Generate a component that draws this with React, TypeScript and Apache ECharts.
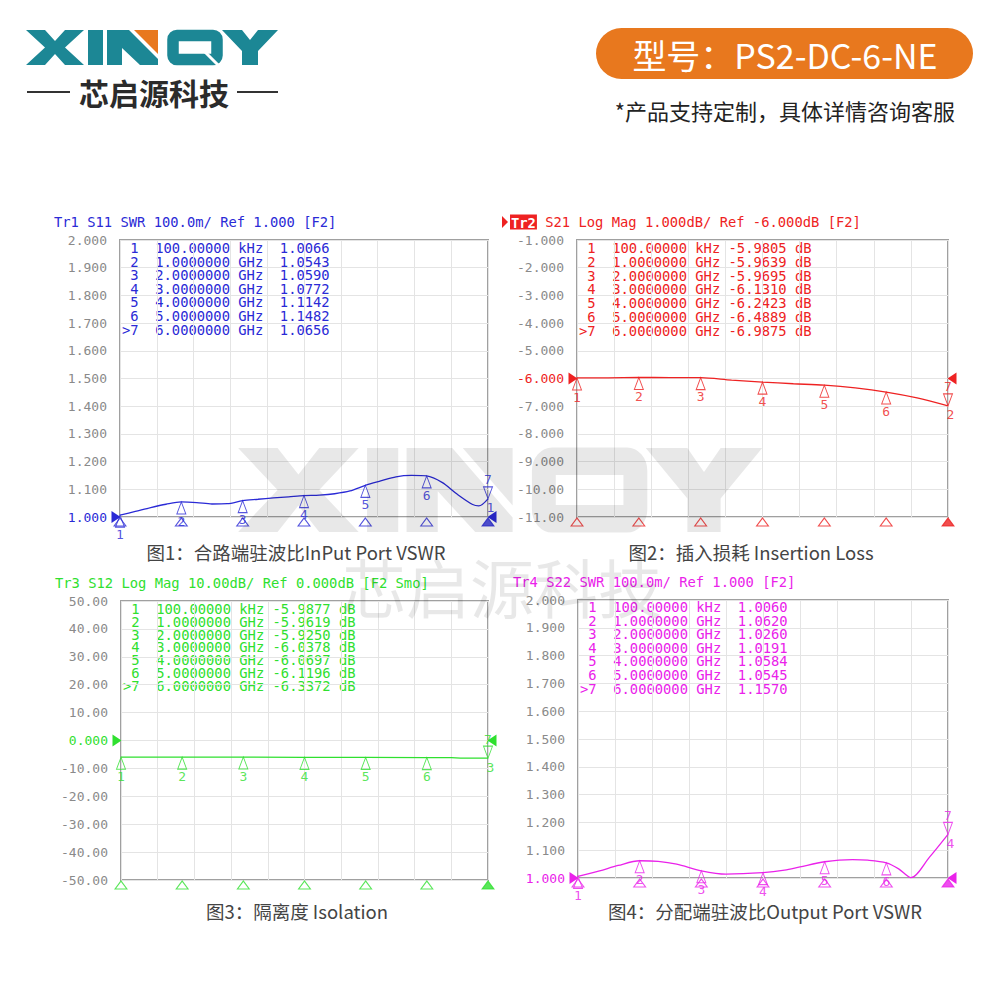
import React, { useEffect, useRef } from "react";
import * as echarts from "echarts";

// ---------- data ----------
const markerFreqs = [0.0001, 1, 2, 3, 4, 5, 6];
const markerFreqLabels = [
  "100.00000 kHz",
  "1.0000000 GHz",
  "2.0000000 GHz",
  "3.0000000 GHz",
  "4.0000000 GHz",
  "5.0000000 GHz",
  "6.0000000 GHz",
];
const markerNames = ["1", "2", "3", "4", "5", "6", "7"];

const s11Markers = [1.0066, 1.0543, 1.059, 1.0772, 1.1142, 1.1482, 1.0656];
const s21Markers = [-5.9805, -5.9639, -5.9695, -6.131, -6.2423, -6.4889, -6.9875];
const s12Markers = [-5.9877, -5.9619, -5.925, -6.0378, -6.0697, -6.1196, -6.3372];
const s22Markers = [1.006, 1.062, 1.026, 1.0191, 1.0584, 1.0545, 1.157];

const s11Freq = [0, 0.25, 0.5, 0.75, 1, 1.25, 1.5, 1.75, 2, 2.25, 2.5, 2.75, 3, 3.25, 3.5, 3.75, 4, 4.25, 4.5, 4.75, 5, 5.25, 5.5, 5.75, 5.85, 6];
const s11Trace = [1.0066, 1.02, 1.034, 1.046, 1.0543, 1.052, 1.047, 1.048, 1.059, 1.064, 1.069, 1.073, 1.0772, 1.079, 1.084, 1.094, 1.1142, 1.13, 1.145, 1.15, 1.1482, 1.125, 1.082, 1.045, 1.04, 1.0656];

const s21Freq = [0, 0.5, 1, 1.5, 2, 2.5, 3, 3.5, 4, 4.5, 5, 5.5, 6];
const s21Trace = [-5.9805, -5.975, -5.9639, -5.965, -5.9695, -6.06, -6.131, -6.19, -6.2423, -6.34, -6.4889, -6.7, -6.9875];

const s12Freq = [0, 1, 2, 3, 4, 5, 5.4, 5.55, 6];
const s12Trace = [-5.9877, -5.9619, -5.925, -6.0378, -6.0697, -6.1196, -6.15, -6.31, -6.3372];

const s22Freq = [0, 0.35, 0.65, 1, 1.3, 1.6, 2, 2.4, 3, 3.35, 3.6, 4, 4.45, 4.7, 5, 5.2, 5.4, 5.7, 6];
const s22Trace = [1.006, 1.026, 1.045, 1.062, 1.06, 1.05, 1.026, 1.014, 1.0191, 1.028, 1.04, 1.0584, 1.066, 1.064, 1.0545, 1.033, 1.001, 1.075, 1.157];

const swrTicks = ["1.000", "1.100", "1.200", "1.300", "1.400", "1.500", "1.600", "1.700", "1.800", "1.900", "2.000"];
const s21Ticks = ["-11.00", "-10.00", "-9.000", "-8.000", "-7.000", "-6.000", "-5.000", "-4.000", "-3.000", "-2.000", "-1.000"];
const s12Ticks = ["-50.00", "-40.00", "-30.00", "-20.00", "-10.00", "0.000", "10.00", "20.00", "30.00", "40.00", "50.00"];

const headers = [
  "Tr1 S11 SWR 100.0m/ Ref 1.000 [F2]",
  "S21 Log Mag 1.000dB/ Ref -6.000dB [F2]",
  "Tr3 S12 Log Mag 10.00dB/ Ref 0.000dB [F2 Smo]",
  "Tr4 S22 SWR 100.0m/ Ref 1.000 [F2]",
];
const captions = [
  "图1：合路端驻波比InPut Port VSWR",
  "图2：插入损耗 Insertion Loss",
  "图3：隔离度 Isolation",
  "图4：分配端驻波比Output Port VSWR",
];
const brandCn = "芯启源科技";
const modelText = "型号：PS2-DC-6-NE";
const noteText = "*产品支持定制，具体详情咨询客服";

// ---------- styles ----------
const MONO = '"DejaVu Sans Mono", monospace';
const CJK = '"Noto Sans CJK SC", "Noto Sans", sans-serif';
const TEAL = "#1c8795";
const ORANGE = "#e8781e";
const GRAY = "#8a8a8a";

const panels = [
  { color: "#2a2ad6", grid: { left: 120, top: 240, width: 368, height: 277 }, min: 1, max: 2, interval: 0.1, ref: 1, ticks: swrTicks, freq: s11Freq, trace: s11Trace, markers: s11Markers, dB: false, traceNo: "1", smooth: 0.3, header: headers[0], hx: 54, hy: 222, active: false, tableY: 248, rowStep: 13.6, caption: captions[0], cx: 296, cy: 552 },
  { color: "#ee2222", grid: { left: 577, top: 240, width: 371, height: 277 }, min: -11, max: -1, interval: 1, ref: -6, ticks: s21Ticks, freq: s21Freq, trace: s21Trace, markers: s21Markers, dB: true, traceNo: "2", smooth: 0.3, header: headers[1], hx: 510, hy: 222, active: true, tableY: 248, rowStep: 13.8, caption: captions[1], cx: 751, cy: 552 },
  { color: "#2fe02f", grid: { left: 121, top: 601, width: 367, height: 279 }, min: -50, max: 50, interval: 10, ref: 0, ticks: s12Ticks, freq: s12Freq, trace: s12Trace, markers: s12Markers, dB: true, traceNo: "3", smooth: 0, header: headers[2], hx: 55, hy: 583, active: false, tableY: 609, rowStep: 12.8, caption: captions[2], cx: 297, cy: 911 },
  { color: "#ea22ea", grid: { left: 578, top: 600, width: 370, height: 278 }, min: 1, max: 2, interval: 0.1, ref: 1, ticks: swrTicks, freq: s22Freq, trace: s22Trace, markers: s22Markers, dB: false, traceNo: "4", smooth: 0.3, header: headers[3], hx: 513, hy: 582, active: false, tableY: 607, rowStep: 13.6, caption: captions[3], cx: 765, cy: 911 },
];

const nb = (s: string) => s.replace(/ /g, "\u00a0");

function tableRow(p: any, j: number) {
  const prefix = j === 6 ? ">7" : " " + markerNames[j];
  const val = p.markers[j].toFixed(4);
  const body = p.dB
    ? `${prefix}  ${markerFreqLabels[j]} ${val} dB`
    : `${prefix}  ${markerFreqLabels[j]}  ${val}`;
  return nb(body);
}

function logoChildren(teal: string, orange: string, opacity: number, notch: boolean) {
  const st = (fill: string) => ({ fill, opacity });
  const kids: any[] = [
    { type: "polygon", shape: { points: [[26, 30], [45, 30], [55, 41], [65, 30], [84, 30], [65, 47.5], [84, 65], [65, 65], [55, 54], [45, 65], [26, 65], [45, 47.5]] }, style: st(teal) },
    { type: "rect", shape: { x: 88, y: 30, width: 15, height: 35 }, style: st(teal) },
    { type: "polygon", shape: { points: [[107, 30], [129, 30], [158, 59], [158, 65], [140, 65], [122, 48], [122, 65], [107, 65]] }, style: st(teal) },
    { type: "polygon", shape: { points: [[134, 30], [158, 30], [158, 54]] }, style: st(orange) },
    { type: "rect", shape: { x: 173, y: 35.5, width: 44, height: 24, r: 4 }, style: { fill: "none", stroke: teal, lineWidth: 11.5, opacity } },
    { type: "polygon", shape: { points: [[222, 30], [242, 30], [250, 40], [258, 30], [278, 30], [258, 51], [258, 65], [242, 65], [242, 51]] }, style: st(teal) },
  ];
  if (notch) {
    kids.push({ type: "line", shape: { x1: 204, y1: 51, x2: 219, y2: 66 }, style: { stroke: "#fff", lineWidth: 3 } });
  }
  return kids;
}

function buildOption() {
  const grid: any[] = [];
  const xAxis: any[] = [];
  const yAxis: any[] = [];
  const series: any[] = [];
  const graphic: any[] = [];

  panels.forEach((p, i) => {
    grid.push({ ...p.grid, show: true, borderColor: "#a0a0a0", borderWidth: 2, backgroundColor: "transparent" });
    xAxis.push({
      gridIndex: i, type: "value", min: 0, max: 6, interval: 0.6,
      axisLine: { show: false }, axisTick: { show: false }, axisLabel: { show: false },
      splitLine: { show: true, lineStyle: { color: "#e4e4e4", width: 1 } },
    });
    yAxis.push({
      gridIndex: i, type: "value", min: p.min, max: p.max, interval: p.interval,
      axisLine: { show: false }, axisTick: { show: false },
      axisLabel: {
        fontFamily: MONO, fontSize: 13, margin: 13,
        formatter: (v: number) => p.ticks[Math.round((v - p.min) / p.interval)] ?? "",
        color: (v: number) => (Math.abs(v - p.ref) < 1e-6 ? p.color : GRAY),
      },
      splitLine: { show: true, lineStyle: { color: "#e4e4e4", width: 1 } },
    });

    // trace
    series.push({
      type: "line", xAxisIndex: i, yAxisIndex: i,
      data: p.freq.map((f, k) => [f, p.trace[k]]),
      showSymbol: false, smooth: p.smooth, silent: true,
      lineStyle: { color: p.color, width: 1.3 },
      z: 3,
      markPoint: {
        silent: true,
        label: { show: false },
        itemStyle: { color: p.color },
        data: [
          { coord: [0, p.ref], symbol: "triangle", symbolRotate: -90, symbolSize: [12, 9], symbolOffset: [-4, 0] },
          { coord: [6, p.ref], symbol: "triangle", symbolRotate: 90, symbolSize: [12, 9], symbolOffset: [4, 0] },
        ],
      },
    });

    // trace markers 1..6
    series.push({
      type: "scatter", xAxisIndex: i, yAxisIndex: i, clip: false, silent: true, z: 4,
      data: p.markers.slice(0, 6).map((v, j) => ({ name: markerNames[j], value: [markerFreqs[j], v] })),
      symbol: "triangle", symbolSize: [9, 12], symbolOffset: [0, 6],
      itemStyle: { color: "rgba(255,255,255,0)", borderColor: p.color, borderWidth: 1 },
      label: { show: true, position: "bottom", distance: 0, formatter: "{b}", color: p.color, fontFamily: MONO, fontSize: 13 },
    });
    // active marker 7
    series.push({
      type: "scatter", xAxisIndex: i, yAxisIndex: i, clip: false, silent: true, z: 4,
      data: [{ name: markerNames[6], value: [markerFreqs[6], p.markers[6]] }],
      symbol: "triangle", symbolSize: [9, 12], symbolRotate: 180, symbolOffset: [0, -6],
      itemStyle: { color: "rgba(255,255,255,0)", borderColor: p.color, borderWidth: 1 },
      label: { show: true, position: "top", distance: 0, formatter: "{b}", color: p.color, fontFamily: MONO, fontSize: 13 },
    });
    // trace number at the end
    series.push({
      type: "scatter", xAxisIndex: i, yAxisIndex: i, clip: false, silent: true, z: 4,
      data: [{ name: p.traceNo, value: [6, p.markers[6]] }],
      symbol: "circle", symbolSize: 1, itemStyle: { color: "rgba(0,0,0,0)" },
      label: { show: true, position: "right", distance: 0, offset: [-2, 9], formatter: "{b}", color: p.color, fontFamily: MONO, fontSize: 13 },
    });
    // stimulus markers under the axis
    series.push({
      type: "scatter", xAxisIndex: i, yAxisIndex: i, clip: false, silent: true, z: 4,
      data: markerFreqs.map((f, j) => ({
        value: [f, p.min],
        itemStyle: j === 6 ? { color: p.color, borderColor: p.color, borderWidth: 1 } : { color: "rgba(255,255,255,0)", borderColor: p.color, borderWidth: 1 },
      })),
      symbol: "triangle", symbolSize: [12, 8], symbolOffset: [0, 5],
    });

    // header
    if (p.active) {
      graphic.push({ type: "polygon", shape: { points: [[502, 216], [508, 222], [502, 228]] }, style: { fill: p.color } });
      graphic.push({
        type: "text", x: p.hx, y: p.hy,
        style: {
          text: nb("{b|Tr2} " + p.header), fill: p.color, font: `13.8px ${MONO}`, verticalAlign: "middle",
          rich: { b: { backgroundColor: p.color, fill: "#fff", color: "#fff", padding: [1, 1, 0, 1], fontFamily: MONO, fontSize: 13.8, fontWeight: "bold" } },
        },
      });
    } else {
      graphic.push({ type: "text", x: p.hx, y: p.hy, style: { text: nb(p.header), fill: p.color, font: `13.8px ${MONO}`, verticalAlign: "middle" } });
    }
    // marker table
    for (let j = 0; j < 7; j++) {
      graphic.push({
        type: "text", x: p.grid.left + 2, y: p.tableY + j * p.rowStep,
        style: { text: tableRow(p, j), fill: p.color, font: `13.8px ${MONO}`, lineHeight: 12, verticalAlign: "middle" },
      });
    }
    // caption
    graphic.push({
      type: "text", x: p.cx, y: p.cy,
      style: { text: p.caption, fill: "#444", font: `18.5px ${CJK}`, align: "center", verticalAlign: "middle" },
    });
  });

  // logo
  graphic.push({ type: "group", x: 0, y: 0, children: logoChildren(TEAL, ORANGE, 1, true) });
  graphic.push({ type: "line", shape: { x1: 27, y1: 92, x2: 70, y2: 92 }, style: { stroke: "#333", lineWidth: 2 } });
  graphic.push({ type: "line", shape: { x1: 237, y1: 92, x2: 278, y2: 92 }, style: { stroke: "#333", lineWidth: 2 } });
  graphic.push({ type: "text", x: 154, y: 92, style: { text: brandCn, fill: "#2b2b2b", font: `bold 30px ${CJK}`, align: "center", verticalAlign: "middle" } });

  // model pill
  graphic.push({ type: "rect", shape: { x: 596, y: 28, width: 377, height: 51, r: 25.5 }, style: { fill: ORANGE } });
  graphic.push({ type: "text", x: 785, y: 54, style: { text: modelText, fill: "#fff", font: `34px ${CJK}`, align: "center", verticalAlign: "middle" } });
  graphic.push({ type: "text", x: 955, y: 110, style: { text: noteText, fill: "#222", font: `22px ${CJK}`, align: "right", verticalAlign: "middle" } });

  // watermark
  graphic.push({ type: "group", x: 184, y: 376, scaleX: 2.08, scaleY: 2.4, z: 100, silent: true, children: logoChildren("#000", "#000", 0.09, false).map((c) => ({ ...c, z: 100 })) });
  graphic.push({ type: "text", x: 502, y: 585, z: 100, silent: true, style: { text: brandCn, fill: "#000", opacity: 0.09, font: `64px ${CJK}`, align: "center", verticalAlign: "middle" } });

  return { animation: false, backgroundColor: "#fff", grid, xAxis, yAxis, series, graphic };
}

export default function App() {
  const ref = useRef<HTMLDivElement>(null);
  useEffect(() => {
    if (!ref.current) return;
    const chart = echarts.init(ref.current, null, { renderer: "svg" });
    chart.setOption(buildOption() as any);
    return () => chart.dispose();
  }, []);
  return <div ref={ref} style={{ position: "absolute", left: 0, top: 0, width: 1000, height: 1000 }} />;
}
